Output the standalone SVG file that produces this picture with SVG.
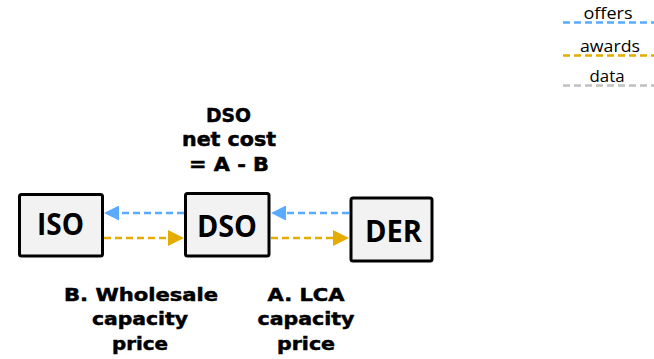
<svg xmlns="http://www.w3.org/2000/svg" width="654" height="359" viewBox="0 0 654 359">
<style>
.node rect{fill:#f2f2f2;stroke:#000;stroke-width:3}
.nt{font-family:"Open Sans","Liberation Sans",sans-serif;font-weight:bold;font-size:31px;fill:#000;text-anchor:middle}
.lbl{font-family:"DejaVu Sans",Verdana,sans-serif;font-weight:bold;fill:#000;stroke:#000;stroke-width:0.5;text-anchor:middle}
.leg{font-family:"Open Sans","Liberation Sans",sans-serif;font-size:17px;fill:#000;text-anchor:middle}
.offers{stroke:#5aaaff;stroke-width:2.5;stroke-dasharray:7 4;fill:none}
.awards{stroke:#e5ac00;stroke-width:2.5;stroke-dasharray:7 4;fill:none}
.data{stroke:#c0c0c0;stroke-width:2.5;stroke-dasharray:7 4;fill:none}
</style>
<defs>
<marker id="hb" markerUnits="userSpaceOnUse" markerWidth="15" markerHeight="15" refX="0" refY="7.5" orient="auto"><path d="M0,0 L15,7.5 L0,15 z" fill="#5aaaff"/></marker>
<marker id="ho" markerUnits="userSpaceOnUse" markerWidth="16" markerHeight="16" refX="0" refY="8" orient="auto"><path d="M0,0 L16,8 L0,16 z" fill="#e5ac00"/></marker>
</defs>
<g id="legend">
<text class="leg" x="608" y="19" textLength="49" lengthAdjust="spacingAndGlyphs">offers</text>
<line class="offers" x1="563" y1="22.5" x2="654" y2="22.5"/>
<text class="leg" x="610" y="52" textLength="60" lengthAdjust="spacingAndGlyphs">awards</text>
<line class="awards" x1="563" y1="55.5" x2="654" y2="55.5"/>
<text class="leg" x="607" y="82" textLength="35" lengthAdjust="spacingAndGlyphs">data</text>
<line class="data" x1="563" y1="85.5" x2="654" y2="85.5"/>
</g>
<g id="connectors">
<line class="offers" x1="184" y1="213" x2="119" y2="213" marker-end="url(#hb)"/>
<line class="awards" x1="104" y1="238" x2="168" y2="238" marker-end="url(#ho)"/>
<line class="offers" x1="349" y1="213" x2="286" y2="213" marker-end="url(#hb)"/>
<line class="awards" x1="271" y1="238" x2="333" y2="238" marker-end="url(#ho)"/>
</g>
<g id="ISO" class="node">
<rect x="19.5" y="194.5" width="83" height="61.5" rx="2"/>
<text class="nt" x="60.5" y="235" textLength="47" lengthAdjust="spacingAndGlyphs">ISO</text>
</g>
<g id="DSO" class="node">
<rect x="185.5" y="193.5" width="83.5" height="62.5" rx="2"/>
<text class="nt" x="227" y="236.5" textLength="60" lengthAdjust="spacingAndGlyphs">DSO</text>
</g>
<g id="DER" class="node">
<rect x="351" y="198" width="81" height="63" rx="2"/>
<text class="nt" x="393.5" y="241.5" textLength="57" lengthAdjust="spacingAndGlyphs">DER</text>
</g>
<g id="net-cost-label">
<text class="lbl" font-size="19" x="228.5" y="121.5" textLength="45" lengthAdjust="spacingAndGlyphs">DSO</text>
<text class="lbl" font-size="19" x="229" y="146" textLength="94" lengthAdjust="spacingAndGlyphs">net cost</text>
<text class="lbl" font-size="19" x="229" y="171" textLength="80" lengthAdjust="spacingAndGlyphs">= A - B</text>
</g>
<g id="wholesale-label">
<text class="lbl" font-size="18" x="141" y="300.5" textLength="154" lengthAdjust="spacingAndGlyphs">B. Wholesale</text>
<text class="lbl" font-size="18" x="140" y="325" textLength="96" lengthAdjust="spacingAndGlyphs">capacity</text>
<text class="lbl" font-size="18" x="140" y="349.5" textLength="56" lengthAdjust="spacingAndGlyphs">price</text>
</g>
<g id="lca-label">
<text class="lbl" font-size="18" x="306" y="300.5" textLength="77" lengthAdjust="spacingAndGlyphs">A. LCA</text>
<text class="lbl" font-size="18" x="306" y="325" textLength="97" lengthAdjust="spacingAndGlyphs">capacity</text>
<text class="lbl" font-size="18" x="306" y="349.5" textLength="58" lengthAdjust="spacingAndGlyphs">price</text>
</g>
</svg>
